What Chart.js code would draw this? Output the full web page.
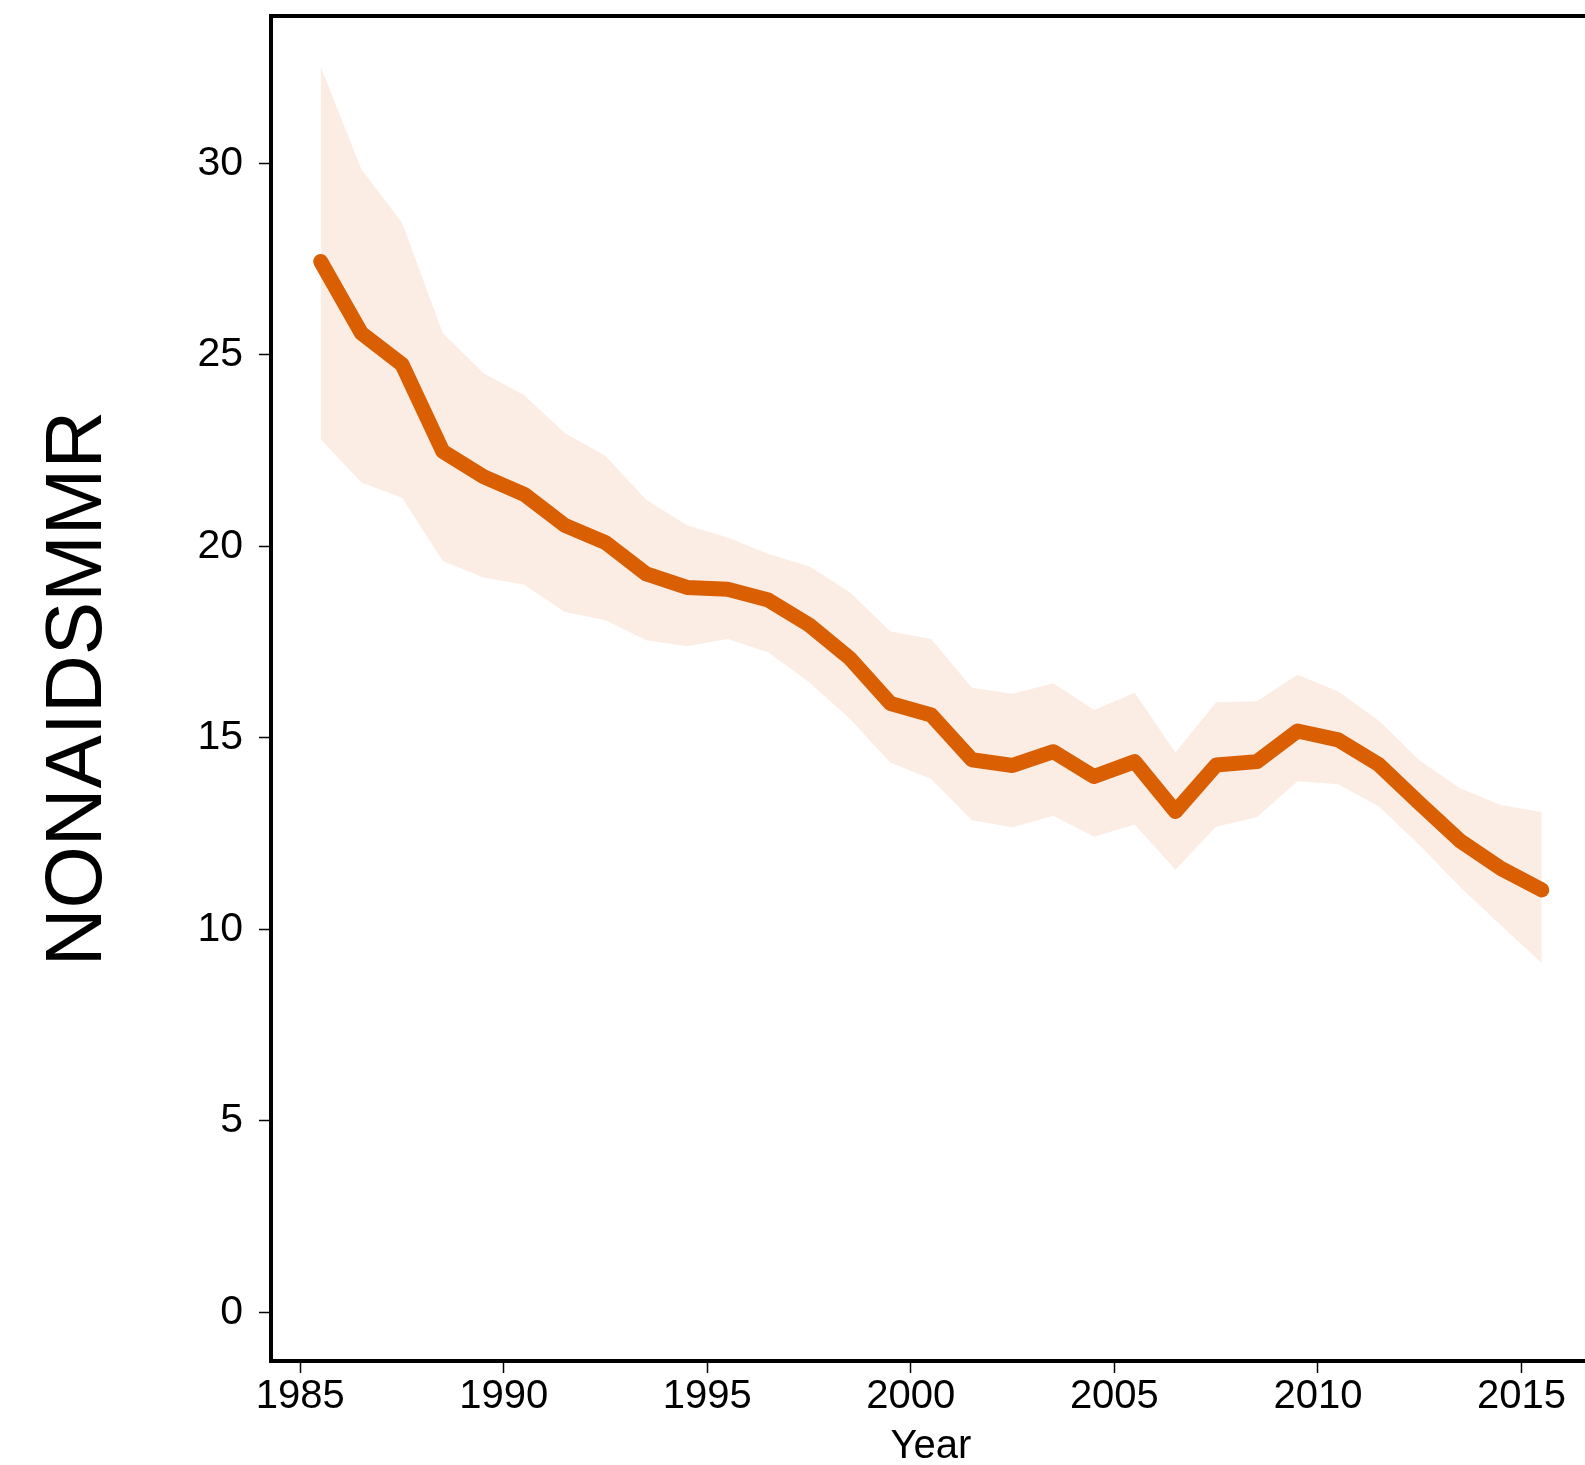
<!DOCTYPE html>
<html>
<head>
<meta charset="utf-8">
<script src="https://cdn.jsdelivr.net/npm/chart.js@4"></script>
<style>
  html, body { margin: 0; padding: 0; background: #fff; overflow: hidden; }
  #wrap { width: 1600px; height: 1465px; position: relative; }
</style>
</head>
<body>
<div id="wrap"><canvas id="c"></canvas></div>
<script>
const years = [1985.5,1986.5,1987.5,1988.5,1989.5,1990.5,1991.5,1992.5,1993.5,1994.5,1995.5,1996.5,1997.5,1998.5,1999.5,2000.5,2001.5,2002.5,2003.5,2004.5,2005.5,2006.5,2007.5,2008.5,2009.5,2010.5,2011.5,2012.5,2013.5,2014.5,2015.5];
const meanValues = [27.44,25.57,24.75,22.48,21.82,21.36,20.55,20.1,19.28,18.93,18.88,18.6,17.95,17.08,15.9,15.6,14.43,14.28,14.64,13.99,14.38,13.08,14.29,14.38,15.18,14.95,14.3,13.29,12.31,11.59,11.03];
const upperValues = [32.53,29.85,28.45,25.57,24.52,23.95,22.96,22.36,21.22,20.55,20.23,19.8,19.48,18.8,17.78,17.58,16.31,16.15,16.43,15.73,16.18,14.62,15.93,15.96,16.65,16.21,15.45,14.41,13.68,13.25,13.06];
const lowerValues = [22.8,21.67,21.27,19.62,19.19,19.0,18.29,18.07,17.55,17.39,17.58,17.23,16.45,15.5,14.35,13.93,12.85,12.67,12.97,12.42,12.74,11.56,12.68,12.93,13.87,13.79,13.21,12.2,11.1,10.1,9.12];
const xTickValues = [1985,1990,1995,2000,2005,2010,2015];
const yTickValues = [0,5,10,15,20,25,30];
const yTitle = 'NONAIDSMMR';
const xTitle = 'Year';

const pts = arr => years.map((x, i) => ({x: x, y: arr[i]}));
const FONT = '"Liberation Sans", Arial, Helvetica, sans-serif';
const LINE = '#D95F02';
const BAND = 'rgba(217,95,2,0.11)';

const X_MIN = 1984.28, X_MAX = 2016.71, Y_MIN = -1.27, Y_MAX = 33.85;

const noPad = s => { s.paddingTop = 0; s.paddingBottom = 0; s.paddingLeft = 0; s.paddingRight = 0; };

new Chart(document.getElementById('c'), {
  type: 'line',
  data: {
    datasets: [
      { data: pts(meanValues), borderColor: LINE, borderWidth: 15, borderCapStyle: 'round', borderJoinStyle: 'round', pointRadius: 0, tension: 0, fill: false, order: 0 },
      { data: pts(upperValues), borderWidth: 0, borderColor: 'rgba(0,0,0,0)', backgroundColor: BAND, pointRadius: 0, tension: 0, fill: '+1', order: 1 },
      { data: pts(lowerValues), borderWidth: 0, borderColor: 'rgba(0,0,0,0)', backgroundColor: BAND, pointRadius: 0, tension: 0, fill: false, order: 2 }
    ]
  },
  options: {
    responsive: true,
    maintainAspectRatio: false,
    animation: false,
    devicePixelRatio: 1,
    layout: { padding: 0 },
    plugins: { legend: { display: false }, tooltip: { enabled: false } },
    scales: {
      x: {
        type: 'linear', position: 'bottom', min: X_MIN, max: X_MAX,
        afterFit: s => { s.height = 104; noPad(s); },
        afterBuildTicks: s => { s.ticks = xTickValues.map(v => ({value: v})); },
        ticks: { font: { family: FONT, size: 40 }, color: '#000', padding: 0, maxRotation: 0, autoSkip: false, callback: v => String(v) },
        grid: { display: true, drawOnChartArea: false, drawTicks: true, tickLength: 12, tickWidth: 1.5, tickColor: '#000' },
        border: { display: true, color: '#000', width: 4 },
        title: { display: true, text: xTitle, color: '#000', font: { family: FONT, size: 40, lineHeight: 0.9 }, padding: { top: 0, bottom: 0 } }
      },
      xTop: {
        type: 'linear', position: 'top', min: X_MIN, max: X_MAX,
        afterFit: s => { s.height = 16; noPad(s); },
        ticks: { display: false },
        grid: { display: false, drawTicks: false },
        border: { display: true, color: '#000', width: 4 }
      },
      y: {
        type: 'linear', position: 'left', min: Y_MIN, max: Y_MAX,
        afterFit: s => { s.width = 271; noPad(s); },
        afterBuildTicks: s => { s.ticks = yTickValues.map(v => ({value: v})); },
        ticks: { font: { family: FONT, size: 41 }, color: '#000', padding: 16, callback: v => String(v) },
        grid: { display: true, drawOnChartArea: false, drawTicks: true, tickLength: 12, tickWidth: 1.5, tickColor: '#000' },
        border: { display: true, color: '#000', width: 4 },
        title: { display: true, text: yTitle, color: '#000', font: { family: FONT, size: 80, lineHeight: 1 }, padding: { top: 39, bottom: 0 } }
      },
      yRight: {
        type: 'linear', position: 'right', min: Y_MIN, max: Y_MAX,
        afterFit: s => { s.width = 9; noPad(s); },
        ticks: { display: false },
        grid: { display: false, drawTicks: false },
        border: { display: true, color: '#000', width: 4 }
      }
    }
  }
});
</script>
</body>
</html>
